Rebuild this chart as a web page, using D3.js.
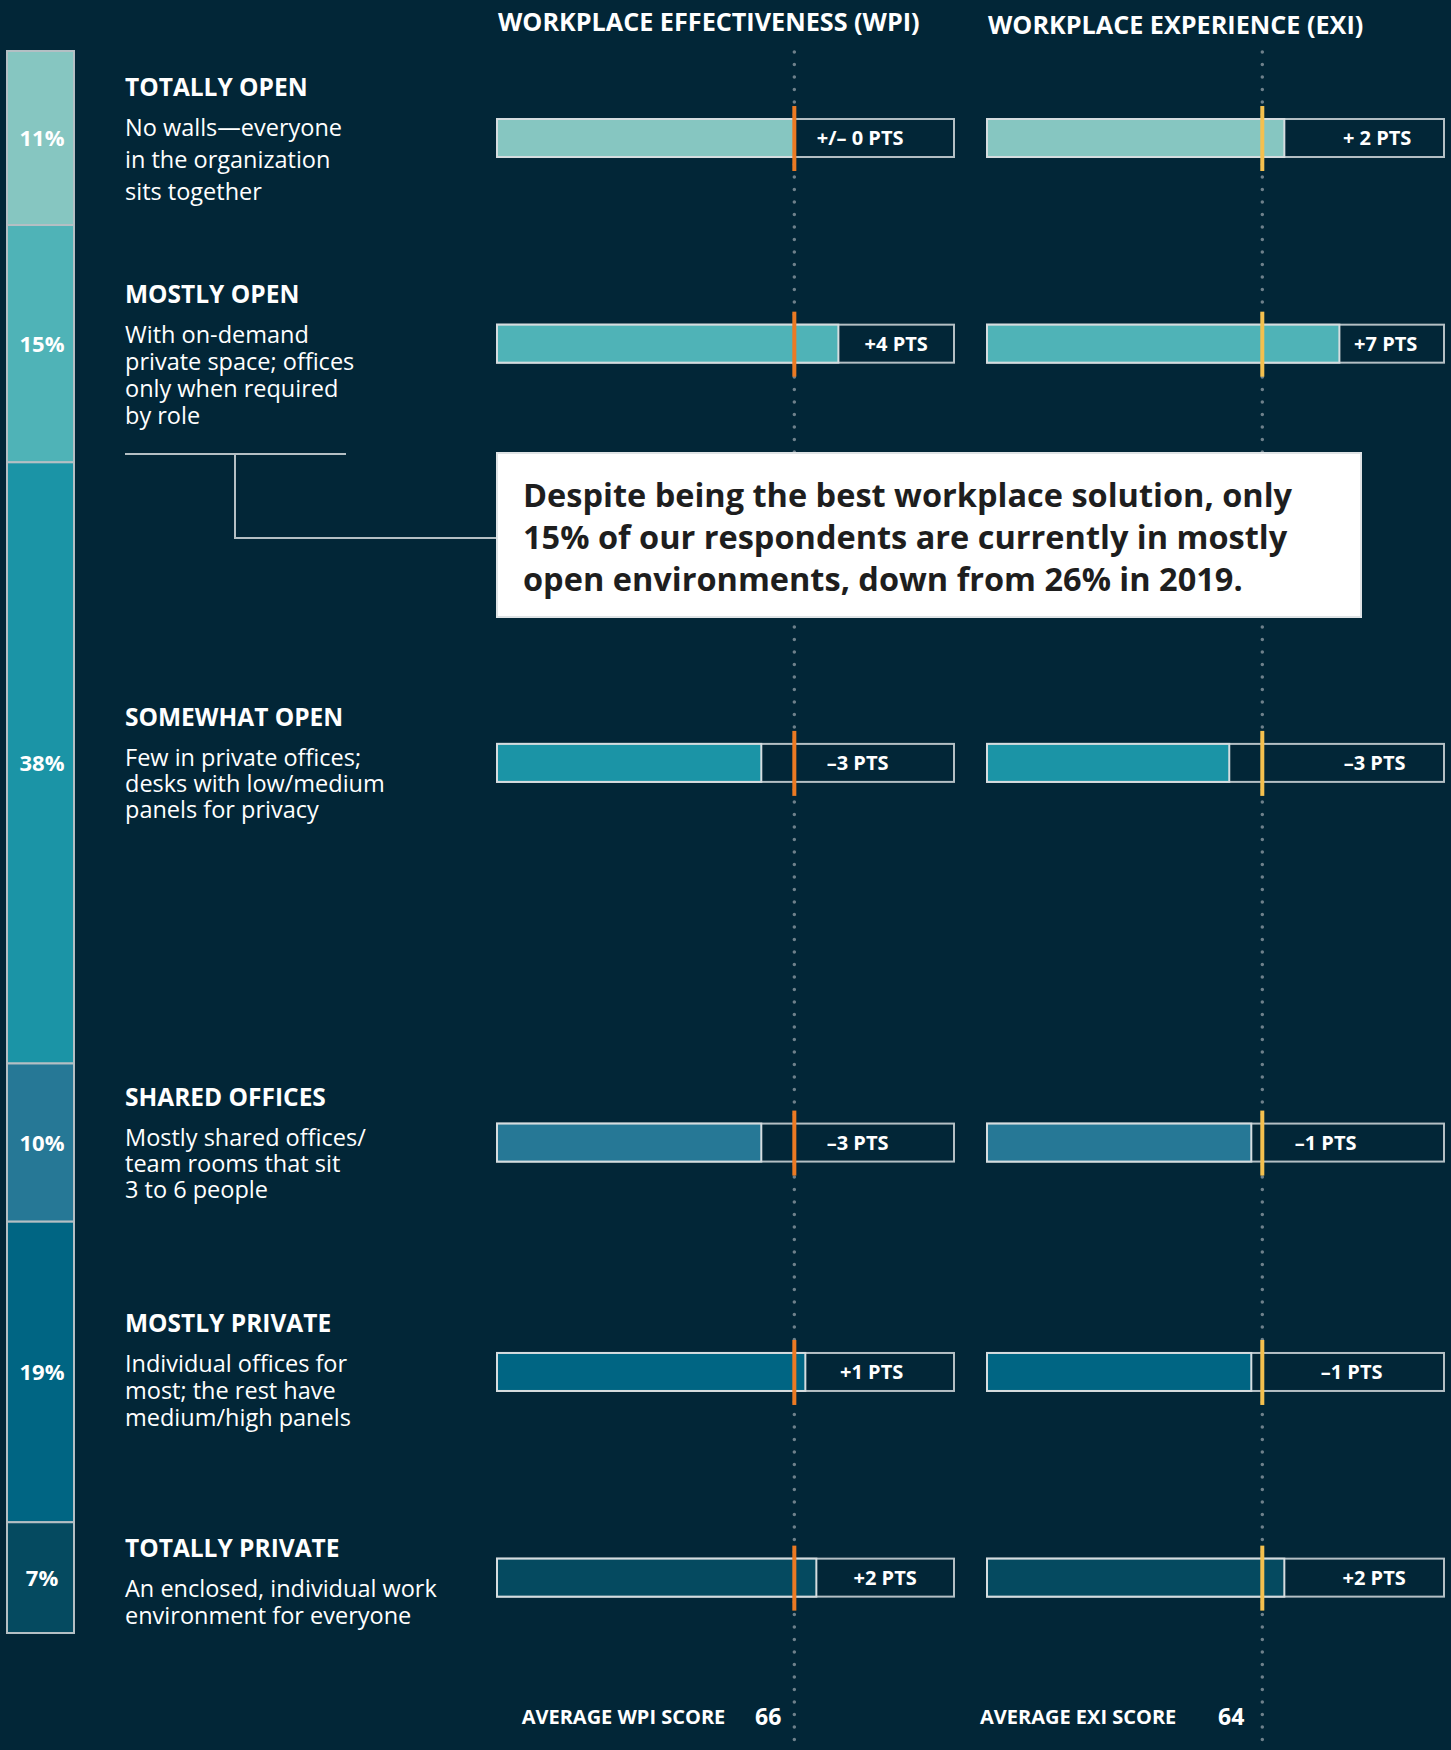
<!DOCTYPE html>
<html>
<head>
<meta charset="utf-8">
<script src="https://cdn.jsdelivr.net/npm/d3@7"></script>
<style>
  body { margin: 0; background: #022637; }
  text { font-family: "Open Sans", "Noto Sans", sans-serif; }
</style>
</head>
<body>
<div id="chart"></div>
<script>
// data
const categories = ["TOTALLY OPEN", "MOSTLY OPEN", "SOMEWHAT OPEN", "SHARED OFFICES", "MOSTLY PRIVATE", "TOTALLY PRIVATE"];
const descriptions = [
  ["No walls\u2014everyone", "in the organization", "sits together"],
  ["With on-demand", "private space; offices", "only when required", "by role"],
  ["Few in private offices;", "desks with low/medium", "panels for privacy"],
  ["Mostly shared offices/", "team rooms that sit", "3 to 6 people"],
  ["Individual offices for", "most; the rest have", "medium/high panels"],
  ["An enclosed, individual work", "environment for everyone"]
];
const shares = [11, 15, 38, 10, 19, 7];
const wpiAvg = 66;
const exiAvg = 64;
const wpiDiff = [0, 4, -3, -3, 1, 2];
const exiDiff = [2, 7, -3, -1, -1, 2];
const wpiLabels = ["+/\u2013 0 PTS", "+4 PTS", "\u20133 PTS", "\u20133 PTS", "+1 PTS", "+2 PTS"];
const exiLabels = ["+ 2 PTS", "+7 PTS", "\u20133 PTS", "\u20131 PTS", "\u20131 PTS", "+2 PTS"];
const callout = ["Despite being the best workplace solution, only",
                 "15% of our respondents are currently in mostly",
                 "open environments, down from 26% in 2019."];

// layout
const width = 1451, height = 1750;
const colors = ["#86c6c1", "#4fb3b7", "#1b94a6", "#267896", "#006583", "#054a60"];
const titleShift = [-42, -41, -37, -37, -40, -21];
const lineGap = [32, 27, 26, 26, 27, 27];
const wpiNudge = [-14, 0, 0, 0, -8, 0];
const exiNudge = [13, -6, 38, -22, 4, 10];
const bg = "#022637";

const svg = d3.select("#chart").append("svg")
  .attr("width", width)
  .attr("height", height)
  .style("display", "block");

svg.append("rect").attr("width", width).attr("height", height).attr("fill", bg);

// stacked share column
const ends = d3.cumsum(shares);
const yShare = d3.scaleLinear().domain([0, 100]).range([51, 1633]);
const rows = categories.map((c, i) => ({
  name: c, i: i, share: shares[i],
  y0: yShare(ends[i] - shares[i]), y1: yShare(ends[i]),
  cy: (yShare(ends[i] - shares[i]) + yShare(ends[i])) / 2
}));

const stack = svg.append("g");
stack.selectAll("rect")
  .data(rows)
  .join("rect")
  .attr("x", 7)
  .attr("width", 67)
  .attr("y", d => d.y0)
  .attr("height", d => d.y1 - d.y0)
  .attr("fill", d => colors[d.i])
  .attr("stroke", "#b4bfc4")
  .attr("stroke-width", 2);

stack.selectAll("text")
  .data(rows)
  .join("text")
  .attr("x", 42)
  .attr("y", d => d.cy + 8)
  .attr("text-anchor", "middle")
  .attr("fill", "#fff")
  .attr("font-weight", 700)
  .attr("font-size", 22)
  .text(d => d.share + "%");

// row titles + descriptions
const labels = svg.append("g");
rows.forEach(r => {
  const ty = r.cy + titleShift[r.i];
  labels.append("text")
    .attr("x", 125).attr("y", ty)
    .attr("fill", "#fff")
    .attr("font-weight", 700)
    .attr("font-size", 24.5)
    .text(r.name);
  labels.append("text")
    .attr("fill", "#fff")
    .attr("font-size", 23.5)
    .selectAll("tspan")
    .data(descriptions[r.i])
    .join("tspan")
    .attr("x", 125)
    .attr("y", (d, j) => ty + 40 + j * lineGap[r.i])
    .text(d => d);
});

// score panels
const xScore = d3.scaleLinear().domain([39, 80.5]).range([0, 457]);
const panels = [
  { title: "WORKPLACE EFFECTIVENESS (WPI)", x0: 497, titleY: 31, avg: wpiAvg, diffs: wpiDiff, labels: wpiLabels, nudge: wpiNudge, marker: "#ec7a23", footer: "AVERAGE WPI SCORE", numOff: 13, footOff: 69 },
  { title: "WORKPLACE EXPERIENCE (EXI)", x0: 987, titleY: 34, avg: exiAvg, diffs: exiDiff, labels: exiLabels, nudge: exiNudge, marker: "#f4c04e", footer: "AVERAGE EXI SCORE", numOff: 18, footOff: 86 }
];
const barH = 38;

panels.forEach(p => {
  const g = svg.append("g").attr("transform", `translate(${p.x0},0)`);
  const ax = xScore(p.avg);

  g.append("text")
    .attr("x", 1).attr("y", p.titleY)
    .attr("fill", "#fff")
    .attr("font-weight", 700)
    .attr("font-size", 25.2)
    .text(p.title);

  // dotted average line
  g.append("line")
    .attr("x1", ax).attr("x2", ax)
    .attr("y1", 52).attr("y2", height)
    .attr("stroke", "#6e808b")
    .attr("stroke-width", 3.5)
    .attr("stroke-linecap", "round")
    .attr("stroke-dasharray", "0 12.5");

  const bars = g.selectAll("g.row")
    .data(rows)
    .join("g")
    .attr("class", "row")
    .attr("transform", d => `translate(0,${d.cy - barH / 2})`);

  bars.append("rect")
    .attr("width", xScore.range()[1])
    .attr("height", barH)
    .attr("fill", bg)
    .attr("stroke", "#b4bfc4")
    .attr("stroke-width", 2);

  bars.append("rect")
    .attr("width", d => xScore(p.avg + p.diffs[d.i]))
    .attr("height", barH)
    .attr("fill", d => colors[d.i])
    .attr("stroke", "#d5dcdf")
    .attr("stroke-width", 2);

  bars.append("text")
    .attr("x", d => (xScore(p.avg + p.diffs[d.i]) + xScore.range()[1]) / 2 + p.nudge[d.i])
    .attr("y", barH / 2 + 7)
    .attr("text-anchor", "middle")
    .attr("fill", "#fff")
    .attr("font-weight", 700)
    .attr("font-size", 20)
    .text(d => p.labels[d.i]);

  bars.append("rect")
    .attr("x", ax - 2)
    .attr("y", -13)
    .attr("width", 4)
    .attr("height", barH + 27)
    .attr("fill", p.marker);

  // footer
  g.append("text")
    .attr("x", ax - p.numOff).attr("y", 1725)
    .attr("text-anchor", "end")
    .attr("fill", "#fff")
    .attr("font-weight", 700)
    .attr("font-size", 23)
    .text(p.avg);
  g.append("text")
    .attr("x", ax - p.footOff).attr("y", 1724)
    .attr("text-anchor", "end")
    .attr("fill", "#fff")
    .attr("font-weight", 700)
    .attr("font-size", 20)
    .text(p.footer);
});

// callout
const co = svg.append("g");
co.append("path")
  .attr("d", "M125,454H346M235,454V538H497")
  .attr("fill", "none")
  .attr("stroke", "#b4bfc4")
  .attr("stroke-width", 2);
co.append("rect")
  .attr("x", 497).attr("y", 453)
  .attr("width", 864).attr("height", 164)
  .attr("fill", "#fff")
  .attr("stroke", "#dfe3e5")
  .attr("stroke-width", 2);
co.append("text")
  .attr("fill", "#1e1e1e")
  .attr("font-weight", 700)
  .attr("font-size", 32.5)
  .selectAll("tspan")
  .data(callout)
  .join("tspan")
  .attr("x", 523)
  .attr("y", (d, j) => 507 + j * 42)
  .text(d => d);
</script>
</body>
</html>
